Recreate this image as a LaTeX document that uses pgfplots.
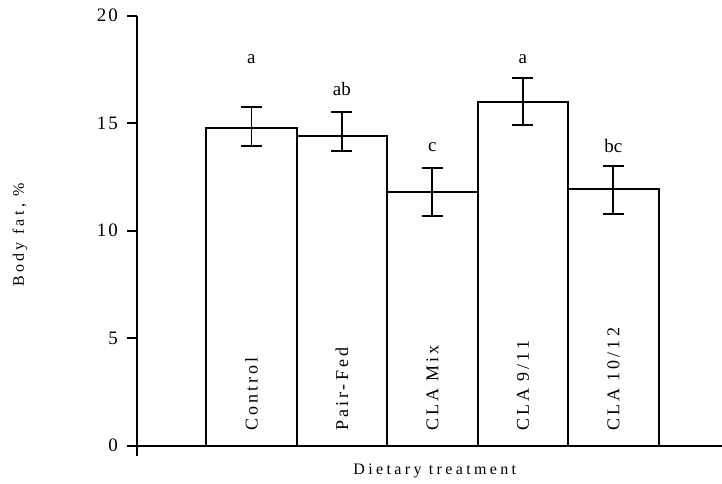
\documentclass[border=0pt]{standalone}
\usepackage{fontspec}
\setmainfont{Liberation Serif}
\newfontfamily\axfont[LetterSpace=21]{Liberation Serif}
\newfontfamily\tickfont[LetterSpace=10]{Liberation Serif}
\newfontfamily\catfont[LetterSpace=17]{Liberation Serif}
\usepackage{pgfplots}
\pgfplotsset{compat=1.18}
\begin{document}
\begin{tikzpicture}
\begin{axis}[
  name=ax,
  scale only axis,
  width=585bp, height=430bp,
  xmin=-1.265, xmax=5.2,
  ymin=0, ymax=20,
  axis x line*=bottom, axis y line*=left,
  axis line style={line width=1.9bp},
  every tick/.style={line width=1.9bp, black},
  tick align=outside,
  major tick length=10bp,
  xtick={-1.265}, xticklabels={},
  ytick={0,5,10,15,20},
  /pgf/number format/assume math mode=true,
  yticklabel style={font=\tickfont\fontsize{19bp}{22bp}\selectfont, inner sep=0pt, anchor=east, xshift=-9bp},
  every axis y label/.style={at={(axis description cs:0,0.49)}, xshift=-117bp, rotate=90, anchor=center, font=\axfont\fontsize{16bp}{19bp}\selectfont},
  every axis x label/.style={at={(axis description cs:0.509,0)}, anchor=center, yshift=-25.5bp, font=\axfont\fontsize{16bp}{19bp}\selectfont},
  ylabel={Body fat, \%},
  xlabel={Dietary treatment},
  clip=false,
  ybar, bar width=1,
]
\addplot[draw=black, fill=white, line width=1.9bp,
  error bars/.cd, y dir=both, y explicit,
  error bar style={line width=1.9bp, black},
  error mark options={rotate=90, mark size=10.5bp, line width=1.9bp, black}]
coordinates {
  (0,14.78) += (0,0.96) -= (0,0.84)
  (1,14.42) += (0,1.08) -= (0,0.73)
  (2,11.79) += (0,1.11) -= (0,1.09)
  (3,16.00) += (0,1.12) -= (0,1.10)
  (4,11.93) += (0,1.09) -= (0,1.14)
};
\begin{scope}[every node/.style={anchor=base, font=\fontsize{19bp}{22bp}\selectfont}]
\node at (axis cs:0,17.76) {a};
\node at (axis cs:1,16.27) {ab};
\node at (axis cs:2,13.67) {c};
\node at (axis cs:3,17.76) {a};
\node at (axis cs:4,13.65) {bc};
\end{scope}
\begin{scope}[every node/.style={rotate=90, anchor=west, inner sep=0pt, font=\catfont\fontsize{18bp}{21bp}\selectfont}]
\node at (axis cs:0,0.68) {Control};
\node at (axis cs:1,0.68) {Pair-Fed};
\node at (axis cs:2,0.68) {CLA Mix};
\node at (axis cs:3,0.68) {CLA 9/11};
\node at (axis cs:4,0.68) {CLA 10/12};
\end{scope}
\end{axis}
\pgfresetboundingbox
\useasboundingbox ([shift={(-137bp,-38.3bp)}]ax.south west) rectangle ([shift={(0bp,15.7bp)}]ax.north east);
\end{tikzpicture}
\end{document}
